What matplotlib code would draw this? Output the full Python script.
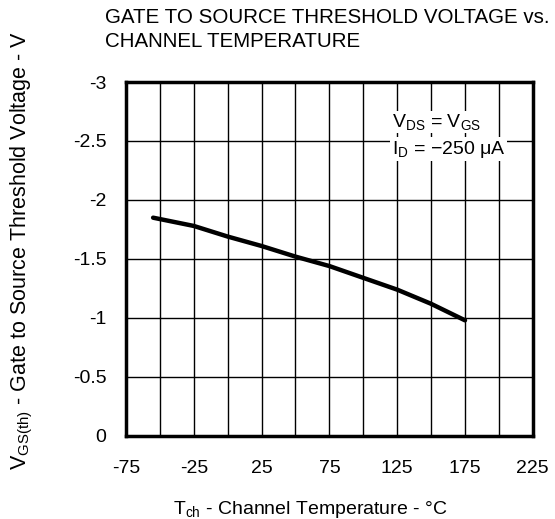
import matplotlib
matplotlib.use("Agg")
import matplotlib.pyplot as plt
import numpy as np

plt.rcParams['font.family'] = ['Liberation Sans', 'DejaVu Sans']
plt.rcParams['mathtext.fontset'] = 'custom'
plt.rcParams['mathtext.rm'] = 'Liberation Sans'
plt.rcParams['mathtext.it'] = 'Liberation Sans'
plt.rcParams['axes.unicode_minus'] = False

# Data
temp = [-55, -25, 0, 25, 50, 75, 100, 125, 150, 175]
vth = [-1.85, -1.78, -1.69, -1.61, -1.52, -1.44, -1.34, -1.24, -1.12, -0.98]

x_ticks = [-75, -25, 25, 75, 125, 175, 225]
y_ticks = [0, -0.5, -1, -1.5, -2, -2.5, -3]
y_labels = ['0', '-0.5', '-1', '-1.5', '-2', '-2.5', '-3']

fig = plt.figure(figsize=(5.55, 5.19), dpi=100)
ax = fig.add_axes([0.227, 0.160, 0.733, 0.682])

ax.plot(temp, vth, color='black', lw=3.2, solid_capstyle='round', zorder=3)

ax.set_xlim(-75, 225)
ax.set_ylim(0, -3)
ax.set_xticks(x_ticks)
ax.set_xticks(np.arange(-75, 226, 25), minor=True)
ax.set_yticks(y_ticks)
ax.set_yticklabels(y_labels)
ax.grid(True, which='both', color='black', lw=1.0)
ax.tick_params(which='both', length=0, labelsize=14)
ax.tick_params(axis='x', pad=17)
ax.tick_params(axis='y', pad=14)
for s in ax.spines.values():
    s.set_linewidth(2.5)

ax.text(121, -2.66, r'V$_{\mathregular{DS}}$ = V$_{\mathregular{GS}}$', fontsize=14,
        ha='left', va='center', bbox=dict(facecolor='white', edgecolor='none', pad=1), zorder=4)
ax.text(121, -2.43, r'I$_{\mathregular{D}}$ = $-$250 $\mu$A', fontsize=14,
        ha='left', va='center', bbox=dict(facecolor='white', edgecolor='none', pad=1), zorder=4)

ax.set_xlabel(r'T$_{\mathregular{ch}}$ - Channel Temperature - °C', fontsize=14)
ax.xaxis.set_label_coords(0.452, -0.178)
ax.set_ylabel(r'V$_{\mathregular{GS(th)}}$ - Gate to Source Threshold Voltage - V', fontsize=15.5)
ax.yaxis.set_label_coords(-0.224, 0.523)

fig.text(0.189, 0.984, 'GATE TO SOURCE THRESHOLD VOLTAGE vs.\nCHANNEL TEMPERATURE',
         fontsize=14.8, ha='left', va='top', linespacing=1.3)

fig.savefig('out.png', dpi=100)
